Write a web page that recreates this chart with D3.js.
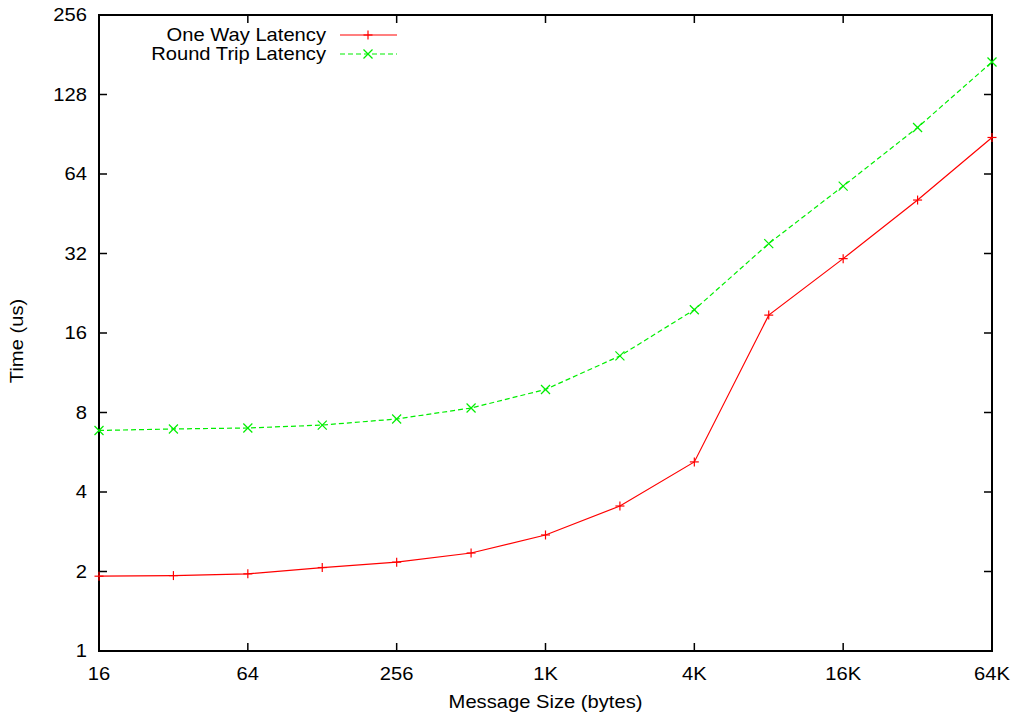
<!DOCTYPE html>
<html>
<head>
<meta charset="utf-8">
<script src="https://cdn.jsdelivr.net/npm/d3@7"></script>
<style>
  body { margin: 0; background: #fff; }
  svg text { font-family: "Liberation Sans", Arial, sans-serif; fill: #000; }
</style>
</head>
<body>
<svg id="chart" width="1015" height="718"></svg>
<script>
// message sizes in bytes
var sizes = [16, 32, 64, 128, 256, 512, 1024, 2048, 4096, 8192, 16384, 32768, 65536];
// latency in microseconds
var oneWay = [1.92, 1.93, 1.96, 2.07, 2.17, 2.35, 2.75, 3.54, 5.2, 18.7, 30.6, 51.0, 88.0];
var roundTrip = [6.84, 6.93, 6.99, 7.17, 7.56, 8.32, 9.78, 13.1, 19.6, 34.9, 57.6, 96.0, 170];

var xTicks = [16, 64, 256, 1024, 4096, 16384, 65536];
var xTickLabels = ["16", "64", "256", "1K", "4K", "16K", "64K"];
var yTicks = [1, 2, 4, 8, 16, 32, 64, 128, 256];

var svg = d3.select("#chart"),
    pLeft = 99, pRight = 992, pTop = 15, pBottom = 651,
    sx = 1.12; // text is a bit wider than tall in the picture

var x = d3.scaleLog().base(2).domain([16, 65536]).range([pLeft, pRight]);
var y = d3.scaleLog().base(2).domain([1, 256]).range([pBottom, pTop]);

function label(g, px, py, str, anchor, rot) {
    var t = g.append("text")
        .attr("transform", "translate(" + px + "," + py + ")" + (rot ? " rotate(" + rot + ")" : "") + " scale(" + sx + ",1)")
        .attr("text-anchor", anchor)
        .attr("font-size", "18px")
        .text(str);
    return t;
}

// ticks (mirrored on all four sides like gnuplot)
var tl = 8;
xTicks.forEach(function (d, i) {
    svg.append("line").attr("x1", x(d)).attr("x2", x(d)).attr("y1", pBottom).attr("y2", pBottom - tl)
        .attr("stroke", "#000").attr("stroke-width", 1.5);
    svg.append("line").attr("x1", x(d)).attr("x2", x(d)).attr("y1", pTop).attr("y2", pTop + tl)
        .attr("stroke", "#000").attr("stroke-width", 1.5);
    label(svg, x(d), 680, xTickLabels[i], "middle");
});
yTicks.forEach(function (d) {
    svg.append("line").attr("x1", pLeft).attr("x2", pLeft + tl).attr("y1", y(d)).attr("y2", y(d))
        .attr("stroke", "#000").attr("stroke-width", 1.5);
    svg.append("line").attr("x1", pRight).attr("x2", pRight - tl).attr("y1", y(d)).attr("y2", y(d))
        .attr("stroke", "#000").attr("stroke-width", 1.5);
    label(svg, 87, y(d) + 6, String(d), "end");
});

// border
svg.append("rect")
    .attr("x", pLeft).attr("y", pTop)
    .attr("width", pRight - pLeft).attr("height", pBottom - pTop)
    .attr("fill", "none").attr("stroke", "#000").attr("stroke-width", 2);

// axis titles
label(svg, (pLeft + pRight) / 2, 708, "Message Size (bytes)", "middle");
label(svg, 23, (pTop + pBottom) / 2 + 8, "Time (us)", "middle", -90);

// series
var series = [
    { name: "One Way Latency", values: oneWay, color: "#ff0000", dash: null, marker: "plus" },
    { name: "Round Trip Latency", values: roundTrip, color: "#00ee00", dash: "5,3", marker: "cross" }
];

var line = d3.line()
    .x(function (d) { return x(d[0]); })
    .y(function (d) { return y(d[1]); });

function drawMarker(g, px, py, type, color) {
    var s = 4.5;
    var segs = type === "plus"
        ? [[px - s, py, px + s, py], [px, py - s, px, py + s]]
        : [[px - s, py - s, px + s, py + s], [px - s, py + s, px + s, py - s]];
    segs.forEach(function (c) {
        g.append("line").attr("x1", c[0]).attr("y1", c[1]).attr("x2", c[2]).attr("y2", c[3])
            .attr("stroke", color).attr("stroke-width", 1.2);
    });
}

series.forEach(function (s, k) {
    var pts = sizes.map(function (d, i) { return [d, s.values[i]]; });
    svg.append("path")
        .datum(pts)
        .attr("d", line)
        .attr("fill", "none")
        .attr("stroke", s.color)
        .attr("stroke-width", 1.2)
        .attr("stroke-dasharray", s.dash);
    pts.forEach(function (p) {
        drawMarker(svg, x(p[0]), y(p[1]), s.marker, s.color);
    });

    // legend entry
    var ly = 35 + k * 19;
    label(svg, 326, ly + 6, s.name, "end");
    svg.append("line").attr("x1", 340).attr("x2", 397).attr("y1", ly).attr("y2", ly)
        .attr("stroke", s.color).attr("stroke-width", 1.2).attr("stroke-dasharray", s.dash);
    drawMarker(svg, 368, ly, s.marker, s.color);
});
</script>
</body>
</html>
